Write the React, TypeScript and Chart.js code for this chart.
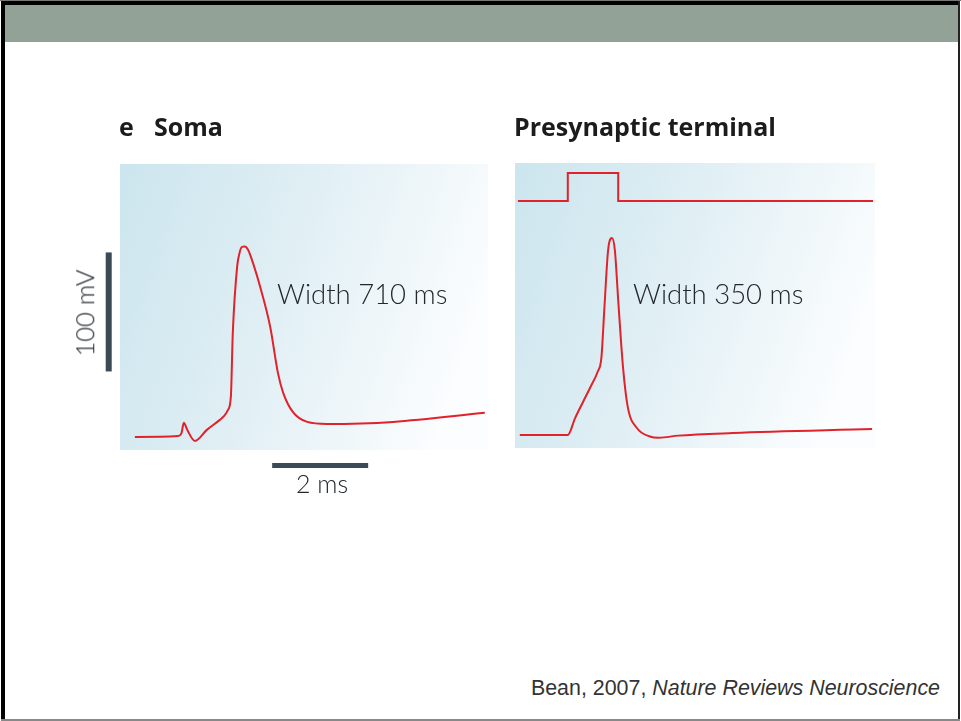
import React, { useEffect, useRef } from "react";
import { Chart, registerables } from "chart.js";

Chart.register(...registerables);

// ---- Data (ms, mV) ----
const somaTimeMs = [0.31, 1.21, 1.28, 1.33, 1.4, 1.56, 1.81, 2.08, 2.17, 2.25, 2.31, 2.35, 2.44, 2.49, 2.54, 2.6, 2.67, 2.77, 2.92, 3.13, 3.29, 3.4, 3.6, 3.9, 4.31, 5.69, 7.6];
const somaVoltageMv = [-80, -79.2, -77, -68.2, -74, -83.4, -74.1, -65.7, -62.4, -57.3, -46, 7.4, 62.9, 74.6, 79.7, 80, 77.1, 66.2, 46.1, 12.4, -26.2, -43.0, -59.0, -67.4, -69.1, -67.4, -59.8];

const termTimeMs = [0.1, 1.1, 1.25, 1.42, 1.58, 1.72, 1.8, 1.86, 1.94, 2.02, 2.08, 2.15, 2.25, 2.35, 2.54, 2.81, 3.0, 3.4, 4.54, 7.44];
const termVoltageMv = [-80, -80, -66, -52, -39, -27, -15, 25, 75.5, 85.5, 75.5, 33.4, -22.9, -56.5, -74.1, -81.2, -82.3, -80.5, -78.3, -75.0];

const stimTimeMs = [0.06, 1.1, 1.1, 2.15, 2.15, 7.46];
const stimLevel = [0, 0, 1, 1, 0, 0];

const timeBarMs = [3.17, 5.17];
const timeBarLevelMv = -104;
const voltBarMv = [-25, 75];
const voltBarTimeMs = -0.235;

const somaTitle = ["e", "Soma"];
const termTitle = "Presynaptic terminal";
const somaWidthLabel = "Width 710 ms";
const termWidthLabel = "Width 350 ms";
const voltBarLabel = "100 mV";
const timeBarLabel = "2 ms";
const citationPlain = "Bean, 2007, ";
const citationItalic = "Nature Reviews Neuroscience";

const RED = "#e0222b";
const BAR = "#3b4a55";
const TEXT = "#22282d";

const pts = (xs: number[], ys: number[]) => xs.map((x, i) => ({ x, y: ys[i] }));

const panelBg = {
  id: "panelBg",
  beforeDatasetsDraw(chart: any) {
    const { ctx, chartArea: a } = chart;
    const g = ctx.createLinearGradient(a.left, a.top, a.right, a.top + a.height * 0.45);
    g.addColorStop(0, "#cce5ee");
    g.addColorStop(0.4, "#dcedf3");
    g.addColorStop(0.75, "#eef6f9");
    g.addColorStop(1, "#fbfdfe");
    ctx.save();
    ctx.fillStyle = g;
    ctx.fillRect(a.left, a.top, a.width, a.height);
    ctx.restore();
  },
};

function useChart(ref: React.RefObject<HTMLCanvasElement | null>, make: (c: HTMLCanvasElement) => Chart) {
  useEffect(() => {
    if (!ref.current) return;
    const ch = make(ref.current);
    return () => ch.destroy();
  }, []);
}

const baseOpts = (xMax: number, yMin: number, yMax: number, padding: any, extraScales: any = {}) => ({
  animation: false as const,
  responsive: false,
  devicePixelRatio: 1,
  layout: { padding },
  plugins: { legend: { display: false }, tooltip: { enabled: false } },
  elements: { point: { radius: 0 } },
  scales: {
    x: { type: "linear" as const, min: 0, max: xMax, display: false },
    y: { type: "linear" as const, min: yMin, max: yMax, display: false },
    ...extraScales,
  },
});

export default function App() {
  const somaRef = useRef<HTMLCanvasElement>(null);
  const termRef = useRef<HTMLCanvasElement>(null);

  useChart(somaRef, (c) =>
    new Chart(c, {
      type: "line",
      data: {
        datasets: [
          {
            data: pts(somaTimeMs, somaVoltageMv),
            borderColor: RED,
            borderWidth: 2,
            cubicInterpolationMode: "monotone",
            fill: false,
          },
          {
            data: pts(timeBarMs, [timeBarLevelMv, timeBarLevelMv]),
            borderColor: BAR,
            borderWidth: 5,
            borderCapStyle: "butt",
            clip: false,
          },
          {
            data: pts([voltBarTimeMs, voltBarTimeMs], voltBarMv),
            borderColor: BAR,
            borderWidth: 6,
            borderCapStyle: "butt",
            clip: false,
          },
        ],
      } as any,
      options: baseOpts(7.667, -91, 149.3, { left: 60, top: 64, right: 12, bottom: 60 }) as any,
      plugins: [panelBg],
    })
  );

  useChart(termRef, (c) =>
    new Chart(c, {
      type: "line",
      data: {
        datasets: [
          {
            data: pts(stimTimeMs, stimLevel),
            borderColor: RED,
            borderWidth: 2,
            tension: 0,
            yAxisID: "yStim",
          },
          {
            data: pts(termTimeMs, termVoltageMv),
            borderColor: RED,
            borderWidth: 2,
            cubicInterpolationMode: "monotone",
          },
        ],
      } as any,
      options: baseOpts(7.5, -90.9, 148.6, { left: 15, top: 63, right: 25, bottom: 62 }, {
        yStim: { type: "linear", min: -8.82, max: 1.357, display: false },
      }) as any,
      plugins: [panelBg],
    })
  );

  const abs = (s: React.CSSProperties): React.CSSProperties => ({ position: "absolute", ...s });
  const label: React.CSSProperties = {
    fontFamily: "Lato, 'Open Sans', sans-serif",
    fontWeight: 300,
    color: TEXT,
    whiteSpace: "nowrap",
    lineHeight: 1,
  };
  const title: React.CSSProperties = {
    fontFamily: "'Open Sans', Lato, sans-serif",
    fontWeight: 700,
    color: "#1c1c1c",
    whiteSpace: "nowrap",
    lineHeight: 1,
    fontSize: 25,
  };

  return (
    <div style={{ position: "fixed", left: 0, top: 0, width: 961, height: 721, background: "#ffffff", overflow: "hidden" }}>
      {/* slide frame */}
      <div style={abs({ left: 0, top: 0, width: 961, height: 1, background: "#777" })} />
      <div style={abs({ left: 1, top: 1, width: 959, height: 4, background: "#000" })} />
      <div style={abs({ left: 5, top: 5, width: 953, height: 37, background: "#93a296" })} />
      <div style={abs({ left: 1, top: 1, width: 4, height: 719, background: "#000" })} />
      <div style={abs({ left: 958, top: 1, width: 2, height: 719, background: "#222" })} />
      <div style={abs({ left: 1, top: 719, width: 959, height: 2, background: "#888" })} />

      {/* charts */}
      <canvas ref={somaRef} width={440} height={410} style={abs({ left: 60, top: 100, width: 440, height: 410 })} />
      <canvas ref={termRef} width={400} height={410} style={abs({ left: 500, top: 100, width: 400, height: 410 })} />

      {/* titles */}
      <div style={abs({ ...title, left: 119, top: 114 })}>{somaTitle[0]}</div>
      <div style={abs({ ...title, left: 154, top: 114 })}>{somaTitle[1]}</div>
      <div style={abs({ ...title, left: 514, top: 114 })}>{termTitle}</div>

      {/* annotations */}
      <div style={abs({ ...label, fontSize: 27.5, left: 277, top: 280 })}>{somaWidthLabel}</div>
      <div style={abs({ ...label, fontSize: 27.5, left: 633, top: 280 })}>{termWidthLabel}</div>
      <div
        style={abs({
          ...label,
          fontSize: 25.5,
          left: 85,
          top: 313,
          transform: "translate(-50%, -50%) rotate(-90deg)",
        })}
      >
        {voltBarLabel}
      </div>
      <div style={abs({ ...label, fontSize: 25, left: 322, top: 471, transform: "translateX(-50%)" })}>{timeBarLabel}</div>

      {/* citation */}
      <div
        style={abs({
          right: 21,
          top: 678,
          fontFamily: "'Liberation Sans', Arial, sans-serif",
          fontSize: 21.4,
          color: "#333",
          whiteSpace: "nowrap",
          lineHeight: 1,
        })}
      >
        {citationPlain}
        <i>{citationItalic}</i>
      </div>
    </div>
  );
}
